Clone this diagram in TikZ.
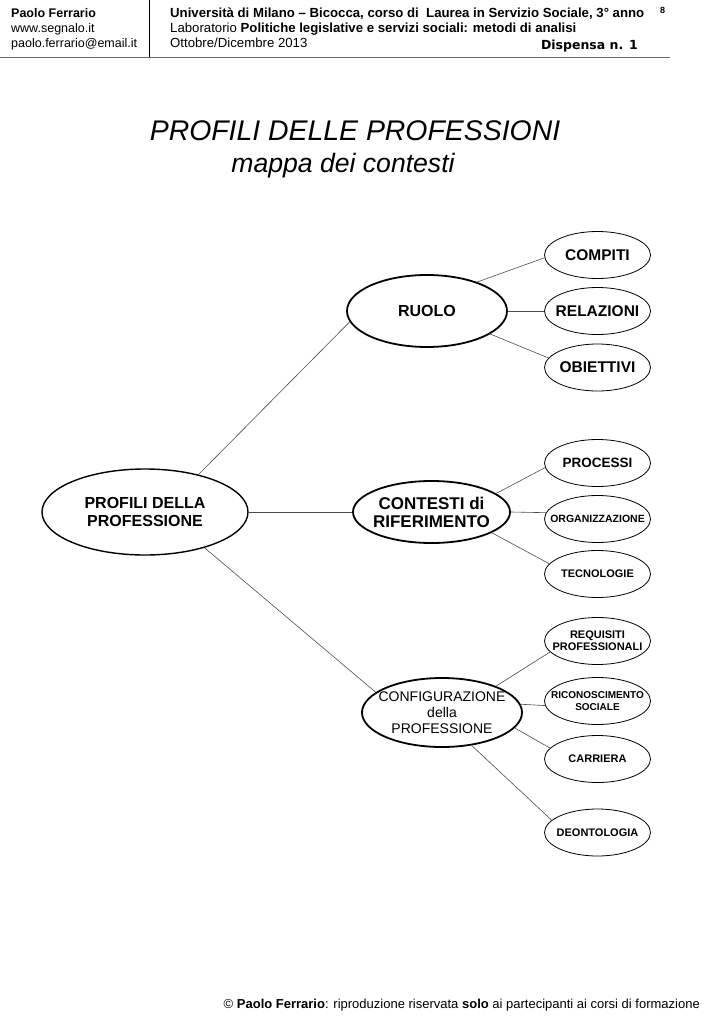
\documentclass[tikz,border=0pt]{standalone}
\usepackage{fontspec}
\setmainfont{Liberation Sans}
\newfontfamily\verdana{DejaVu Sans}
\usepackage{xcolor}
\usepackage{tikz}
\usetikzlibrary{positioning,shapes.geometric}

% corpi di testo (1pt = 1px)
\newcommand{\fgrande}{\fontsize{15.5}{17}\selectfont}
\newcommand{\fmedio}{\fontsize{13.5}{15}\selectfont}
\newcommand{\fpiccolo}{\fontsize{11}{12}\selectfont}

\begin{document}
\begin{tikzpicture}[
	x=1pt, y=-1pt,
	% --- STILI DELLA MAPPA ---
	radice/.style={
		ellipse, draw, line width=1.4pt,
		minimum width=206pt, minimum height=86pt,
		inner xsep=-12pt, inner ysep=0pt, align=center,
		font=\fontsize{16}{18}\selectfont\bfseries
	},
	ramo/.style={
		ellipse, draw, line width=1.8pt,
		minimum width=160pt, minimum height=72pt,
		inner xsep=-12pt, inner ysep=0pt, align=center
	},
	foglia/.style={
		ellipse, draw, line width=0.8pt,
		minimum width=106pt, minimum height=47pt,
		inner xsep=-14pt, inner ysep=0pt, align=center
	},
	legame/.style={draw=black!70, line width=0.6pt},
	% -------------------------
	% Stile per le righe dell'intestazione
	testata/.style={anchor=base west, inner sep=0pt, font=\fontsize{12.5}{14}\selectfont}
	]
	\path[use as bounding box, fill=white] (0,0) rectangle (709,1024);
	
	% Intestazione
	\node[testata] (autore) at (11,18) {\bfseries Paolo Ferrario};
	\node[testata] (sito) at (11,33) {www.segnalo.it};
	\node[testata] (email) at (11,48) {paolo.ferrario@email.it};
	\node[testata, font=\fontsize{13.2}{14}\selectfont] (corso) at (170,18) {\bfseries Università di Milano – Bicocca, corso di\ \ Laurea in Servizio Sociale, 3° anno};
	\node[testata, font=\fontsize{13.2}{14}\selectfont] (lab) at (170,33) {Laboratorio \textbf{Politiche legislative e servizi sociali: metodi di analisi}};
	\node[testata, font=\fontsize{13.2}{14}\selectfont] (periodo) at (170,48) {Ottobre/Dicembre 2013};
	\node[testata, anchor=base east, font=\verdana\bfseries\fontsize{12.5}{14}\selectfont] (dispensa) at (638,50) {Dispensa n. 1};
	\node[testata, font=\fontsize{9}{10}\selectfont\bfseries] (pagina) at (660,14) {8};
	\draw[line width=0.8pt] (149,0) -- (149,57);
	\draw[black!60, line width=1.6pt] (0,57.5) -- (670,57.5);
	
	% Titolo
	\node[anchor=base, inner sep=0pt, font=\fontsize{28.4}{30}\selectfont\itshape] (titolo) at (355,141) {PROFILI DELLE PROFESSIONI};
	\node[anchor=base, inner sep=0pt, font=\fontsize{26.6}{30}\selectfont\itshape] (sottotitolo) at (343,173) {mappa dei contesti};
	
	% Nodo centrale e rami
	\node[radice] (profili) at (145,512) {PROFILI DELLA\\PROFESSIONE};
	\node[ramo, font=\fontsize{16}{18}\selectfont\bfseries] (ruolo) at (427,311) {RUOLO};
	\node[ramo, minimum width=157pt, minimum height=62pt, font=\fontsize{17}{18}\selectfont\bfseries] (contesti) at (431.5,512) {CONTESTI di\\RIFERIMENTO};
	\node[ramo, minimum height=69pt, font=\fontsize{14}{16}\selectfont] (config) at (442,712.5) {CONFIGURAZIONE\\della\\PROFESSIONE};
	
	% Foglie
	\node[foglia, font=\fgrande\bfseries] (compiti) at (597.5,255) {COMPITI};
	\node[foglia, font=\fgrande\bfseries] (relazioni) at (597.5,311) {RELAZIONI};
	\node[foglia, font=\fgrande\bfseries] (obiettivi) at (597.5,367.5) {OBIETTIVI};
	\node[foglia, font=\fmedio\bfseries] (processi) at (597.5,463) {PROCESSI};
	\node[foglia, font=\fontsize{10.5}{12}\selectfont\bfseries] (organizzazione) at (597.5,519) {ORGANIZZAZIONE};
	\node[foglia, font=\fpiccolo\bfseries] (tecnologie) at (597.5,574) {TECNOLOGIE};
	\node[foglia, font=\fpiccolo\bfseries] (requisiti) at (597.5,641) {REQUISITI\\PROFESSIONALI};
	\node[foglia, font=\fontsize{10}{11.5}\selectfont\bfseries] (riconoscimento) at (597.5,701) {RICONOSCIMENTO\\SOCIALE};
	\node[foglia, font=\fpiccolo\bfseries] (carriera) at (597.5,759) {CARRIERA};
	\node[foglia, font=\fpiccolo\bfseries] (deontologia) at (597.5,832.5) {DEONTOLOGIA};
	
	% Legami
	\draw[legame] (profili.35) -- (ruolo.188);
	\draw[legame] (profili.east) -- (contesti.west);
	\draw[legame] (profili.-31) -- (config.163);
	\draw[legame] (ruolo.30) -- (compiti.183);
	\draw[legame] (ruolo.east) -- (relazioni.west);
	\draw[legame] (ruolo.-20) -- (obiettivi.169);
	\draw[legame] (contesti.16) -- (processi.185);
	\draw[legame] (contesti.east) -- (organizzazione.173);
	\draw[legame] (contesti.-19) -- (tecnologie.168);
	\draw[legame] (config.26) -- (requisiti.193);
	\draw[legame] (config.6) -- (riconoscimento.185);
	\draw[legame] (config.-12) -- (carriera.167);
	\draw[legame] (config.-48) -- (deontologia.165);
	
	% Nota in calce
	\node[testata, anchor=base east, font=\fontsize{13}{14}\selectfont] (nota) at (700,1008) {© \textbf{Paolo Ferrario}: riproduzione riservata \textbf{solo} ai partecipanti ai corsi di formazione};
\end{tikzpicture}
\end{document}
